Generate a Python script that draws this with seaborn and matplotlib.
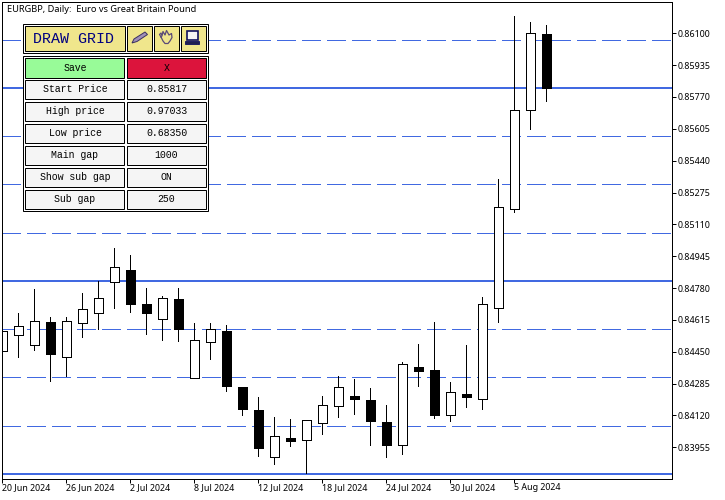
"""EURGBP daily candles with the DRAW GRID panel."""
import matplotlib
matplotlib.use('Agg')
import matplotlib.pyplot as plt
from matplotlib.patches import Rectangle, Polygon
import numpy as np
import pandas as pd
import seaborn as sns

opens = [0.84452, 0.84535, 0.84483, 0.84603, 0.84421, 0.84597, 0.84649, 0.84810, 0.84872, 0.84696,
         0.84618, 0.84722, 0.84312, 0.84499, 0.84556, 0.84266, 0.84147, 0.83903, 0.84002, 0.83991,
         0.84079, 0.84167, 0.84219, 0.84198, 0.84084, 0.83965, 0.84369, 0.84354, 0.84121, 0.84229,
         0.84204, 0.84675, 0.85188, 0.85701, 0.86095]
closes = [0.84556, 0.84582, 0.84608, 0.84440, 0.84608, 0.84670, 0.84727, 0.84887, 0.84699, 0.84653,
          0.84727, 0.84570, 0.84509, 0.84566, 0.84274, 0.84155, 0.83953, 0.84012, 0.83989, 0.84095,
          0.84172, 0.84266, 0.84207, 0.84093, 0.83969, 0.84385, 0.84352, 0.84124, 0.84240, 0.84217,
          0.84696, 0.85199, 0.85701, 0.86100, 0.85818]
highs = [0.84556, 0.84649, 0.84774, 0.84628, 0.84628, 0.84753, 0.84815, 0.84986, 0.84950, 0.84779,
         0.84737, 0.84779, 0.84597, 0.84597, 0.84587, 0.84266, 0.84214, 0.84112, 0.84100, 0.84095,
         0.84219, 0.84323, 0.84307, 0.84261, 0.84172, 0.84395, 0.84488, 0.84602, 0.84292, 0.84483,
         0.84732, 0.85344, 0.86190, 0.86157, 0.86141]
lows = [0.84452, 0.84421, 0.84461, 0.84300, 0.84326, 0.84528, 0.84566, 0.84679, 0.84658, 0.84544,
        0.84513, 0.84508, 0.84312, 0.84414, 0.84249, 0.84124, 0.83912, 0.83870, 0.83964, 0.83824,
        0.84026, 0.84114, 0.84129, 0.83969, 0.83906, 0.83922, 0.84274, 0.84109, 0.84093, 0.84166,
        0.84155, 0.84606, 0.85176, 0.85606, 0.85751]

main_levels = [0.85817, 0.84817, 0.83817]
sub_levels = [0.86067, 0.85567, 0.85317, 0.85067, 0.84567, 0.84317, 0.84067]

price_ticks = [0.86100, 0.85935, 0.85770, 0.85605, 0.85440, 0.85275, 0.85110,
               0.84945, 0.84780, 0.84615, 0.84450, 0.84285, 0.84120, 0.83955]
date_ticks = [0, 4, 8, 12, 16, 20, 24, 28, 32]
date_labels = ['20 Jun 2024', '26 Jun 2024', '2 Jul 2024', '8 Jul 2024', '12 Jul 2024',
               '18 Jul 2024', '24 Jul 2024', '30 Jul 2024', '5 Aug 2024']

title = 'EURGBP, Daily:  Euro vs Great Britain Pound'
row_labels = ['Start Price', 'High price', 'Low price', 'Main gap', 'Show sub gap', 'Sub gap']
row_values = ['0.85817', '0.97033', '0.68350', '1000', 'ON', '250']

BLUE = '#4169E1'
KHAKI = '#F0E68C'
UI_FONT = 'Noto Sans'
MONO = 'Liberation Mono'

sns.set_theme(style='ticks', rc={'lines.scale_dashes': False})
plt.rcParams['font.family'] = [UI_FONT, 'DejaVu Sans']

fig = plt.figure(figsize=(7.25, 5.0), dpi=100)
ax = fig.add_axes([2.3 / 725, 21 / 500, 670 / 725, 476.7 / 500])

for lv in sub_levels:
    ax.axhline(lv, color=BLUE, lw=0.72, ls=(0, (12.96, 4.32)), antialiased=False, zorder=1)
for lv in main_levels:
    ax.axhline(lv, color=BLUE, lw=1.44, zorder=1)

# wicks, one line per candle
idx = np.arange(len(opens))
wicks = pd.DataFrame({
    'i': np.concatenate([idx, idx]),
    'price': highs + lows,
})
sns.lineplot(data=wicks, x='i', y='price', units='i', estimator=None, color='black',
             lw=0.72, antialiased=False, legend=False, ax=ax, zorder=2)

# bodies
o = np.array(opens)
c = np.array(closes)
colors = ['white' if up else 'black' for up in c >= o]
ax.bar(idx, np.abs(c - o), bottom=np.minimum(o, c), width=0.6, color=colors,
       edgecolor='black', linewidth=0.72, antialiased=False, zorder=3)

ax.set_xlim(0, 41.875)
ax.set_ylim(0.837907, 0.862606)
ax.set_xlabel('')
ax.set_ylabel('')
sns.despine(ax=ax, top=False, right=False)
for s in ax.spines.values():
    s.set_linewidth(0.72)
    s.set_color('black')
    s.set_zorder(6)

ax.yaxis.tick_right()
ax.set_yticks(price_ticks)
ax.set_yticklabels([f'{p:.5f}' for p in price_ticks])
ax.set_xticks(date_ticks)
ax.set_xticklabels(date_labels, ha='left')
ax.tick_params(axis='both', length=3, width=0.72, color='black', labelcolor='black',
               labelsize=6.4, pad=1)
ax.tick_params(axis='x', pad=0.2)

# panel drawn in figure pixels
ui = fig.add_axes([0, 0, 1, 1], facecolor='none')
ui.set_xlim(0, 725)
ui.set_ylim(500, 0)
ui.axis('off')
ui.text(6.7, 9.7, title, fontsize=6.65, color='black', ha='left', va='center')


def box(x0, y0, x1, y1, fc, lw=0.72):
    ui.add_patch(Rectangle((x0, y0), x1 - x0, y1 - y0, fc=fc, ec='black', lw=lw))


box(23.5, 23.5, 208.5, 52.5, 'white')
box(23.5, 55.5, 208.5, 210.5, 'white')
box(25.5, 25.5, 125.5, 50.5, KHAKI)
box(127.5, 25.5, 152.5, 50.5, KHAKI)
box(154.5, 25.5, 179.5, 50.5, KHAKI)
box(181.5, 25.5, 206.5, 50.5, KHAKI)
ui.text(73.5, 39.2, 'DRAW GRID', family=MONO, fontsize=10.8, color='#000080',
        ha='center', va='center')

# pencil icon
ui.add_patch(Polygon([(132, 43), (134, 39), (145, 32), (147.5, 34.5), (137, 41.5)],
                     fc='#A090B8', ec='#3A3060', lw=0.7))
# hand icon
ui.plot([161, 159.5, 161, 162, 163, 165, 166.5, 169, 171.5, 172, 170, 168, 165, 163, 161],
        [37, 34.5, 33, 36, 31.5, 35, 30.5, 35, 33.5, 37.5, 41, 43.5, 43.5, 41, 37],
        color='#5A4A78', lw=0.9)
# computer icon
ui.add_patch(Rectangle((187, 31), 11, 8.5, fc='#F5F5F5', ec='#101060', lw=1.2))
ui.add_patch(Rectangle((185.5, 41), 14, 2.8, fc='#202050', ec='#101060', lw=0.6))

box(25.5, 57.5, 124.5, 77.5, '#98FB98')
box(127.5, 57.5, 206.5, 77.5, '#DC143C')
ui.text(75, 67.7, 'Save', family=MONO, fontsize=7.1, color='black', ha='center', va='center')
ui.text(166.5, 67.7, 'X', family=MONO, fontsize=7.1, color='black', ha='center', va='center')

for n, (lab, val) in enumerate(zip(row_labels, row_values)):
    y0 = 79.5 + 22 * n
    box(25.5, y0, 124.5, y0 + 19, '#F5F5F5')
    box(127.5, y0, 206.5, y0 + 19, '#F5F5F5')
    ui.text(75, y0 + 9.7, lab, family=MONO, fontsize=7.1, color='black', ha='center', va='center')
    ui.text(166.5, y0 + 9.7, val, family=MONO, fontsize=7.1, color='black', ha='center', va='center')

fig.savefig('out.png', dpi=100, facecolor='white')
